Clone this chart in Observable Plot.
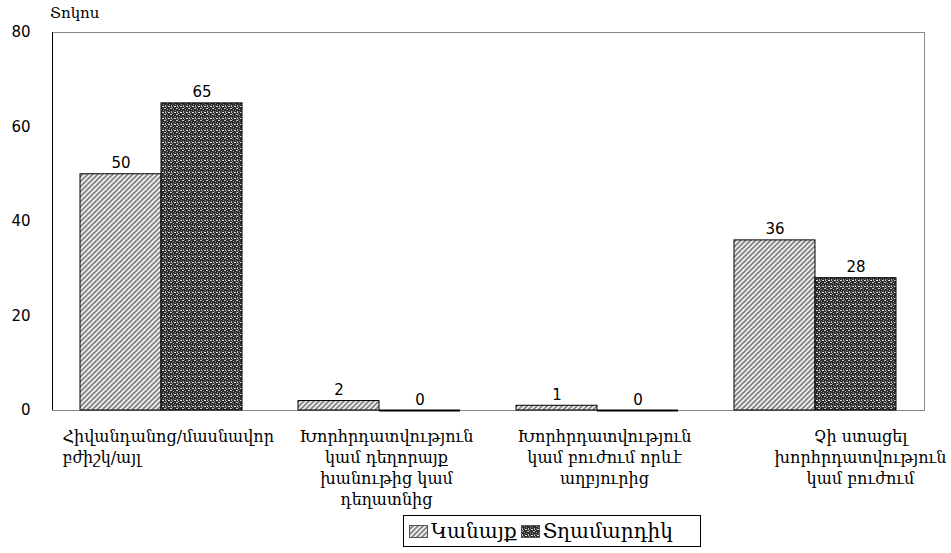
<!DOCTYPE html>
<html><head><meta charset="utf-8">
<script src="https://cdn.jsdelivr.net/npm/d3@7"></script>
<script src="https://cdn.jsdelivr.net/npm/@observablehq/plot@0.6"></script>
<style>
body{margin:0;background:#fff;}
#wrap{position:relative;width:951px;height:553px;background:#fff;}
#title{position:absolute;left:50px;top:4px;font:15px "DejaVu Serif";color:#000;}
#legend{position:absolute;left:403px;top:515px;width:296px;height:30px;border:1px solid #000;display:flex;align-items:center;font:20px "DejaVu Serif";color:#000;box-sizing:content-box;white-space:nowrap;overflow:hidden;}
#legend .item{display:flex;align-items:center;margin-left:5px;}
#legend .item + .item{margin-left:4px;}
#legend svg{margin-right:3px;}
</style></head>
<body>
<svg width="0" height="0" style="position:absolute">
<defs>
<pattern id="hatch" patternUnits="userSpaceOnUse" width="5" height="5">
<rect width="5" height="5" fill="#eeeeee"/>
<path d="M-1,1 l2,-2 M0,5 l5,-5 M4,6 l2,-2" stroke="#808080" stroke-width="1.6"/>
</pattern>
<pattern id="dots" patternUnits="userSpaceOnUse" width="6" height="6">
<rect width="6" height="6" fill="#2e2e2e"/>
<rect x="0" y="0" width="2" height="1" fill="#c8c8c8"/>
<rect x="3" y="1" width="1" height="1" fill="#a0a0a0"/>
<rect x="1" y="3" width="1" height="2" fill="#b8b8b8"/>
<rect x="4" y="4" width="2" height="1" fill="#e0e0e0"/>
<rect x="5" y="2" width="1" height="1" fill="#8a8a8a"/>
<rect x="2" y="5" width="1" height="1" fill="#9a9a9a"/>
<rect x="3" y="3" width="1" height="1" fill="#707070"/>
</pattern>
</defs>
</svg>
<div id="wrap">
<div id="chart"></div>
<div id="title">Տոկոս</div>
<div id="legend"></div>
</div>
<script>
const categories = [
  "Հիվանդանոց/մասնավոր\nբժիշկ/այլ",
  "Խորհրդատվություն\nկամ դեղորայք\nխանութից կամ\nդեղատնից",
  "Խորհրդատվություն\nկամ բուժում որևէ\nաղբյուրից",
  "Չի ստացել\nխորհրդատվություն\nկամ բուժում"
];
const seriesNames = ["Կանայք", "Տղամարդիկ"];
const women = [50, 2, 1, 36];
const men = [65, 0, 0, 28];
const yTicks = [0, 20, 40, 60, 80];
const fills = ["url(#hatch)", "url(#dots)"];

const data = categories.flatMap((c, i) => [
  {cat: c, series: seriesNames[0], value: women[i]},
  {cat: c, series: seriesNames[1], value: men[i]}
]);

const labelStyle = {fx: d => d, text: d => d, lineAnchor: "top", dy: 17, lineHeight: 1.3, fontFamily: "DejaVu Serif", fontSize: 16};

const chart = Plot.plot({
  width: 951,
  height: 515,
  marginLeft: 50,
  marginRight: 26,
  marginTop: 32,
  marginBottom: 105,
  style: {fontFamily: "DejaVu Sans", fontSize: "15px", background: "white", color: "#000", overflow: "visible"},
  fx: {domain: categories, padding: 0, axis: null},
  x: {domain: seriesNames, paddingInner: 0, paddingOuter: 0.334, axis: null},
  y: {domain: [0, 80], ticks: yTicks, tickSize: 0, tickPadding: 22, label: null},
  color: {domain: seriesNames, range: fills},
  marks: [
    Plot.frame({stroke: "#888", facet: "super"}),
    Plot.frame({anchor: "left", stroke: "#000", facet: "super"}),
    Plot.ruleY([0], {stroke: "#888"}),
    Plot.barY(data, {fx: "cat", x: "series", y: "value", fill: "series", stroke: "#000", strokeWidth: 1}),
    Plot.tickY(data.filter(d => d.value === 0), {fx: "cat", x: "series", y: "value", stroke: "#000", strokeWidth: 2}),
    Plot.text(data, {fx: "cat", x: "series", y: "value", text: d => String(d.value), lineAnchor: "bottom", dy: -6, fontSize: 15}),
    Plot.text(categories.slice(0, 1), {...labelStyle, frameAnchor: "bottom-left", textAnchor: "start", dx: 10}),
    Plot.text(categories.slice(1, 3), {...labelStyle, frameAnchor: "bottom", dx: 7}),
    Plot.text(categories.slice(3), {...labelStyle, frameAnchor: "bottom", dx: 45})
  ]
});
document.getElementById("chart").appendChild(chart);

const legend = document.getElementById("legend");
seriesNames.forEach((name, i) => {
  const item = document.createElement("div");
  item.className = "item";
  item.innerHTML = `<svg width="19" height="13"><rect x="0.5" y="0.5" width="18" height="12" fill="${fills[i]}" stroke="#555"/></svg><span>${name}</span>`;
  legend.appendChild(item);
});
</script>
</body></html>
